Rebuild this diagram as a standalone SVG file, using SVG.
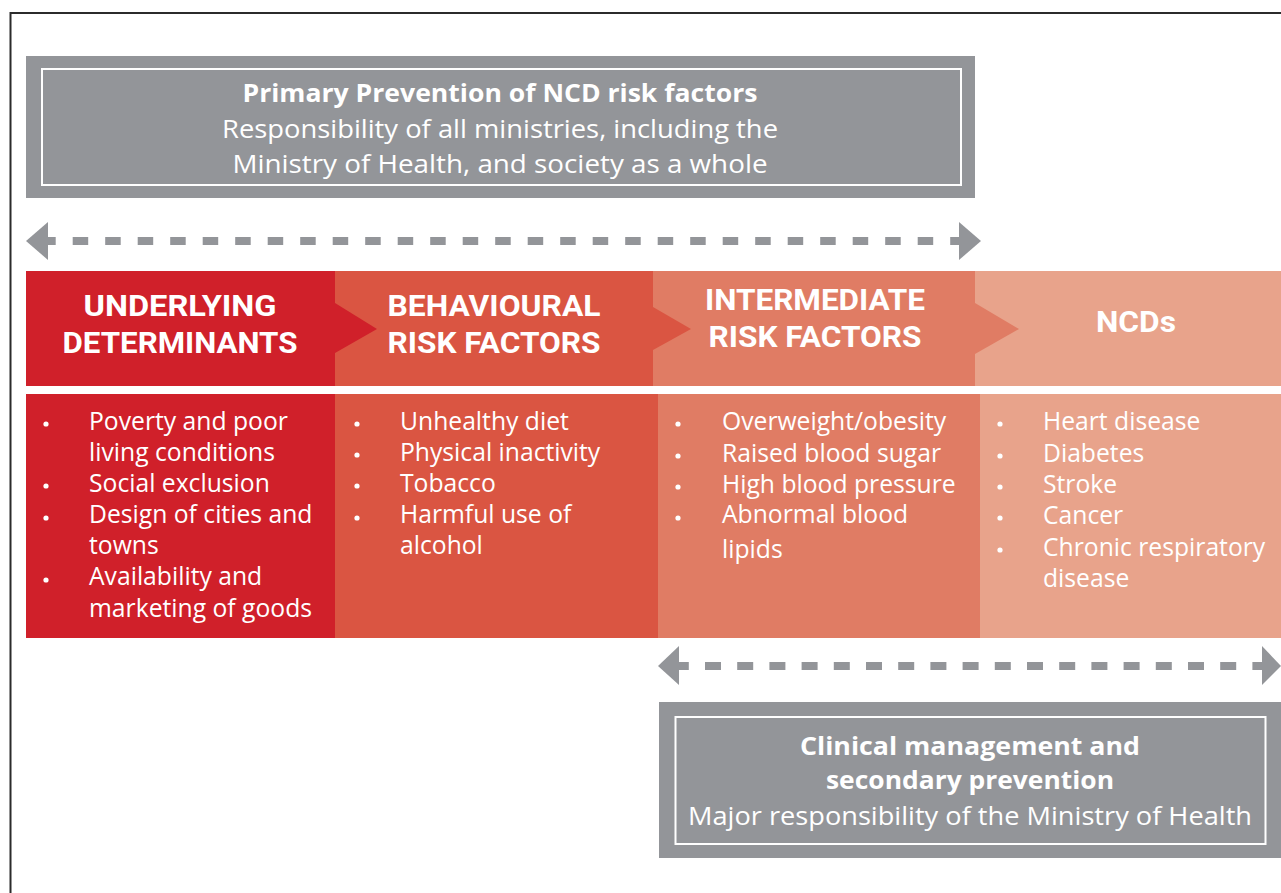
<svg xmlns="http://www.w3.org/2000/svg" width="1281" height="893" viewBox="0 0 1281 893">
  <defs>
    <style>
      .frame { fill: none; stroke: #2b2b2b; stroke-width: 2; }
      .panel { fill: #939599; }
      .panel-inner { fill: none; stroke: #ffffff; stroke-width: 2; }
      .c1 { fill: #D0202A; }
      .c2 { fill: #DA5542; }
      .c3 { fill: #E07C64; }
      .c4 { fill: #E8A38B; }
      .head { font-family: Roboto, "Liberation Sans", sans-serif; font-weight: 700; font-size: 29.5px; fill: #ffffff; text-anchor: middle; }
      .ptitle { font-family: "Open Sans", "Liberation Sans", sans-serif; font-weight: 700; font-size: 24.5px; fill: #ffffff; text-anchor: middle; }
      .ptext { font-family: "Open Sans", "Liberation Sans", sans-serif; font-weight: 400; font-size: 25px; fill: #ffffff; text-anchor: middle; }
      .item { font-family: "Open Sans", "Liberation Sans", sans-serif; font-size: 24.7px; fill: #ffffff; }
      .bullet { fill: #ffffff; }
      .dash { stroke: #939599; stroke-width: 8; fill: none; }
      .tip { fill: #939599; }
    </style>
  </defs>

  <rect width="1281" height="893" fill="#ffffff"/>
  <!-- page frame, open on the right and bottom -->
  <rect class="frame" x="10.5" y="13" width="1300" height="900"/>

  <!-- primary prevention panel -->
  <g id="primary-prevention">
    <rect class="panel" x="26" y="56" width="949" height="142"/>
    <rect class="panel-inner" x="42" y="69" width="919" height="116"/>
    <text class="ptitle" x="500" y="102" textLength="515" lengthAdjust="spacingAndGlyphs">Primary Prevention of NCD risk factors</text>
    <text class="ptext" x="500" y="138" textLength="556" lengthAdjust="spacingAndGlyphs">Responsibility of all ministries, including the</text>
    <text class="ptext" x="500" y="173" textLength="535" lengthAdjust="spacingAndGlyphs">Ministry of Health, and society as a whole</text>
  </g>

  <!-- header band -->
  <g id="header-underlying">
    <rect class="c1" x="26" y="271" width="310" height="115"/>
    <text class="head" x="180" y="316" textLength="193" lengthAdjust="spacingAndGlyphs">UNDERLYING</text>
    <text class="head" x="180" y="353" textLength="235" lengthAdjust="spacingAndGlyphs">DETERMINANTS</text>
  </g>
  <g id="header-behavioural">
    <rect class="c2" x="335" y="271" width="319" height="115"/>
    <polygon class="c1" points="335,303 377,329 335,353"/>
    <text class="head" x="494" y="316" textLength="213" lengthAdjust="spacingAndGlyphs">BEHAVIOURAL</text>
    <text class="head" x="494" y="353" textLength="213" lengthAdjust="spacingAndGlyphs">RISK FACTORS</text>
  </g>
  <g id="header-intermediate">
    <rect class="c3" x="653" y="271" width="323" height="115"/>
    <polygon class="c2" points="653,307 691,329 653,350"/>
    <text class="head" x="815" y="310" textLength="220" lengthAdjust="spacingAndGlyphs">INTERMEDIATE</text>
    <text class="head" x="815" y="347" textLength="213" lengthAdjust="spacingAndGlyphs">RISK FACTORS</text>
  </g>
  <g id="header-ncds">
    <rect class="c4" x="975" y="271" width="306" height="115"/>
    <polygon class="c3" points="975,303 1019,329 975,354"/>
    <text class="head" x="1136" y="332" textLength="80" lengthAdjust="spacingAndGlyphs">NCDs</text>
  </g>

  <!-- body columns -->
  <g id="list-underlying">
    <rect class="c1" x="26" y="394" width="310" height="244"/>
    <circle class="bullet" cx="46" cy="424" r="2.6"/>
    <circle class="bullet" cx="46" cy="486" r="2.6"/>
    <circle class="bullet" cx="46" cy="518" r="2.6"/>
    <circle class="bullet" cx="46" cy="580" r="2.6"/>
    <text class="item" x="89" y="430">Poverty and poor</text>
    <text class="item" x="89" y="461">living conditions</text>
    <text class="item" x="89" y="492">Social exclusion</text>
    <text class="item" x="89" y="523">Design of cities and</text>
    <text class="item" x="89" y="554">towns</text>
    <text class="item" x="89" y="585">Availability and</text>
    <text class="item" x="89" y="617">marketing of goods</text>
  </g>
  <g id="list-behavioural">
    <rect class="c2" x="335" y="394" width="324" height="244"/>
    <circle class="bullet" cx="357" cy="424" r="2.6"/>
    <circle class="bullet" cx="357" cy="455" r="2.6"/>
    <circle class="bullet" cx="357" cy="486" r="2.6"/>
    <circle class="bullet" cx="357" cy="518" r="2.6"/>
    <text class="item" x="400" y="430">Unhealthy diet</text>
    <text class="item" x="400" y="461">Physical inactivity</text>
    <text class="item" x="400" y="492">Tobacco</text>
    <text class="item" x="400" y="523">Harmful use of</text>
    <text class="item" x="400" y="554">alcohol</text>
  </g>
  <g id="list-intermediate">
    <rect class="c3" x="658" y="394" width="322" height="244"/>
    <circle class="bullet" cx="678" cy="424" r="2.6"/>
    <circle class="bullet" cx="678" cy="456" r="2.6"/>
    <circle class="bullet" cx="678" cy="487" r="2.6"/>
    <circle class="bullet" cx="678" cy="518" r="2.6"/>
    <text class="item" x="722" y="430">Overweight/obesity</text>
    <text class="item" x="722" y="462">Raised blood sugar</text>
    <text class="item" x="722" y="493">High blood pressure</text>
    <text class="item" x="722" y="523">Abnormal blood</text>
    <text class="item" x="722" y="558">lipids</text>
  </g>
  <g id="list-ncds">
    <rect class="c4" x="980" y="394" width="301" height="244"/>
    <circle class="bullet" cx="1000" cy="424" r="2.6"/>
    <circle class="bullet" cx="1000" cy="456" r="2.6"/>
    <circle class="bullet" cx="1000" cy="487" r="2.6"/>
    <circle class="bullet" cx="1000" cy="518" r="2.6"/>
    <circle class="bullet" cx="1000" cy="550" r="2.6"/>
    <text class="item" x="1043" y="430">Heart disease</text>
    <text class="item" x="1043" y="462">Diabetes</text>
    <text class="item" x="1043" y="493">Stroke</text>
    <text class="item" x="1043" y="524">Cancer</text>
    <text class="item" x="1043" y="556">Chronic respiratory</text>
    <text class="item" x="1043" y="587">disease</text>
  </g>

  <!-- clinical management panel -->
  <g id="clinical-management">
    <rect class="panel" x="659" y="702" width="622" height="156"/>
    <rect class="panel-inner" x="675.5" y="717" width="590" height="127"/>
    <text class="ptitle" x="970" y="755" textLength="340" lengthAdjust="spacingAndGlyphs">Clinical management and</text>
    <text class="ptitle" x="970" y="789" textLength="288" lengthAdjust="spacingAndGlyphs">secondary prevention</text>
    <text class="ptext" x="970" y="825" textLength="564" lengthAdjust="spacingAndGlyphs">Major responsibility of the Ministry of Health</text>
  </g>

  <!-- double-headed dashed spans -->
  <g id="connectors">
    <line class="dash" x1="48" y1="241" x2="959" y2="241" stroke-dasharray="15.5 17" stroke-dashoffset="7.8"/>
    <polygon class="tip" points="26,241 48,222 48,260"/>
    <polygon class="tip" points="981,241 959,222 959,260"/>
    <line class="dash" x1="679" y1="666" x2="1262" y2="666" stroke-dasharray="16 16.2" stroke-dashoffset="6.2"/>
    <polygon class="tip" points="658,666 679,646 679,685"/>
    <polygon class="tip" points="1281,666 1262,646 1262,685"/>
  </g>
</svg>
